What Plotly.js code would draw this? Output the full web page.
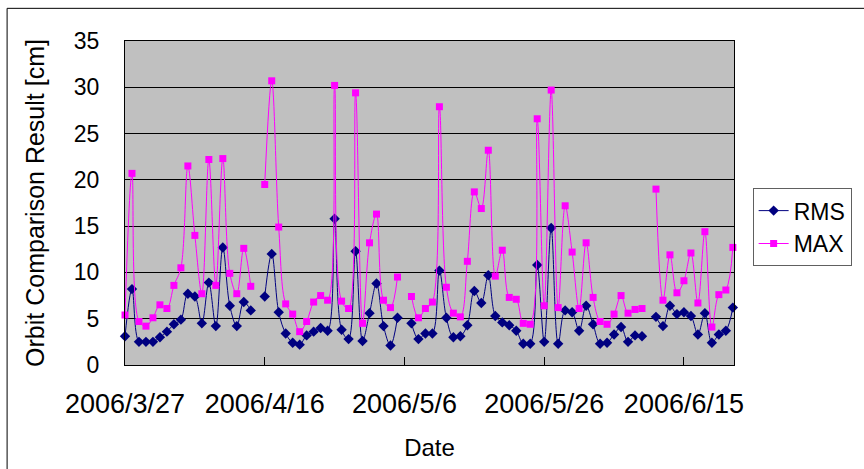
<!DOCTYPE html>
<html>
<head>
<meta charset="utf-8">
<script src="https://cdn.plot.ly/plotly-3.0.1.min.js"></script>
<style>
html,body{margin:0;padding:0;background:#fff;}
#chart{width:864px;height:469px;}
</style>
</head>
<body>
<div id="chart"></div>
<script>
const dates = [
 '2006-03-27','2006-03-28','2006-03-29','2006-03-30','2006-03-31',
 '2006-04-01','2006-04-02','2006-04-03','2006-04-04','2006-04-05','2006-04-06','2006-04-07','2006-04-08','2006-04-09','2006-04-10',
 '2006-04-11','2006-04-12','2006-04-13','2006-04-14','2006-04-15','2006-04-16','2006-04-17','2006-04-18','2006-04-19','2006-04-20',
 '2006-04-21','2006-04-22','2006-04-23','2006-04-24','2006-04-25','2006-04-26','2006-04-27','2006-04-28','2006-04-29','2006-04-30',
 '2006-05-01','2006-05-02','2006-05-03','2006-05-04','2006-05-05','2006-05-06','2006-05-07','2006-05-08','2006-05-09','2006-05-10',
 '2006-05-11','2006-05-12','2006-05-13','2006-05-14','2006-05-15','2006-05-16','2006-05-17','2006-05-18','2006-05-19','2006-05-20',
 '2006-05-21','2006-05-22','2006-05-23','2006-05-24','2006-05-25','2006-05-26','2006-05-27','2006-05-28','2006-05-29','2006-05-30','2006-05-31',
 '2006-06-01','2006-06-02','2006-06-03','2006-06-04','2006-06-05','2006-06-06','2006-06-07','2006-06-08','2006-06-09','2006-06-10',
 '2006-06-11','2006-06-12','2006-06-13','2006-06-14','2006-06-15','2006-06-16','2006-06-17','2006-06-18','2006-06-19','2006-06-20',
 '2006-06-21','2006-06-22'
];

const rms = [
 3.1, 8.2, 2.5, 2.5, 2.5,
 3.0, 3.6, 4.4, 4.9, 7.7, 7.4, 4.5, 8.9, 4.2, 12.7,
 6.4, 4.2, 6.8, 5.9, null, 7.4, 12.0, 5.7, 3.4, 2.4,
 2.2, 3.2, 3.6, 4.0, 3.7, 15.8, 3.8, 2.8, 12.3, 2.6,
 5.6, 8.8, 4.2, 2.1, 5.1, null, 4.5, 2.8, 3.4, 3.4,
 10.2, 5.1, 3.0, 3.1, 4.3, 8.0, 6.7, 9.7, 5.3, 4.6,
 4.3, 3.7, 2.3, 2.3, 10.8, 2.5, 14.8, 2.3, 5.9, 5.7, 3.7,
 6.4, 4.4, 2.3, 2.4, 3.3, 4.1, 2.5, 3.2, 3.1, null,
 5.2, 4.2, 6.4, 5.5, 5.7, 5.3, 3.3, 5.6, 2.4, 3.3,
 3.7, 6.2
];

const max = [
 5.4, 20.7, 4.7, 4.2, 5.1,
 6.5, 6.1, 8.6, 10.5, 21.5, 14.0, 7.7, 22.2, 8.6, 22.3,
 9.9, 7.7, 12.6, 8.5, null, 19.5, 30.7, 14.9, 6.6, 5.5,
 3.6, 4.7, 6.8, 7.5, 7.0, 30.2, 6.9, 6.1, 29.4, 4.5,
 13.2, 16.3, 7.0, 6.2, 9.5, null, 7.4, 5.1, 6.1, 6.8,
 27.9, 8.4, 5.6, 5.2, 11.2, 18.7, 16.9, 23.2, 9.6, 12.4,
 7.3, 7.1, 4.5, 4.4, 26.6, 6.4, 29.7, 6.2, 17.2, 12.2, 6.1,
 13.2, 7.3, 4.7, 4.4, 5.5, 7.5, 5.6, 6.0, 6.1, null,
 19.0, 7.0, 11.9, 7.8, 9.1, 12.1, 6.7, 14.4, 4.1, 7.6,
 8.1, 12.7
];

const tickDates = ['2006-03-27','2006-04-16','2006-05-06','2006-05-26','2006-06-15'];
const tickLabels = ['2006/3/27','2006/4/16','2006/5/6','2006/5/26','2006/6/15'];
const yTicks = [0,5,10,15,20,25,30,35];

const FONT = 'Liberation Sans, Arial, sans-serif';

const traces = [
 {
  x: dates, y: rms, name: 'RMS', type: 'scatter', mode: 'lines+markers',
  line: {color: '#000080', width: 1, shape: 'spline', smoothing: 1},
  marker: {symbol: 'diamond', size: 8, color: '#000080'},
  connectgaps: false, cliponaxis: false
 },
 {
  x: dates, y: max, name: 'MAX', type: 'scatter', mode: 'lines+markers',
  line: {color: '#FF00FF', width: 1, shape: 'spline', smoothing: 1},
  marker: {symbol: 'square', size: 7, color: '#FF00FF'},
  connectgaps: false, cliponaxis: false
 }
];

const layout = {
 width: 864, height: 469,
 margin: {l: 125, r: 128, t: 41, b: 104},
 paper_bgcolor: '#ffffff',
 plot_bgcolor: '#C0C0C0',
 font: {family: FONT, color: '#000'},
 showlegend: true,
 legend: {
  x: 1.0306, y: 0.5458, xanchor: 'left', yanchor: 'top',
  bgcolor: '#ffffff', bordercolor: '#606060', borderwidth: 1,
  font: {family: FONT, size: 23, color: '#000'}
 },
 xaxis: {
  type: 'date',
  range: ['2006-03-27', '2006-06-22 04:00'],
  tickvals: tickDates, ticktext: tickLabels,
  ticks: 'inside', ticklen: 8, tickcolor: '#000', tickwidth: 1,
  ticklabelstandoff: 15,
  tickfont: {family: FONT, size: 27, color: '#000'},
  showgrid: false, zeroline: false,
  showline: true, linecolor: '#000', linewidth: 1, mirror: true,
  title: {text: 'Date', font: {family: FONT, size: 24, color: '#000'}, standoff: 20}
 },
 yaxis: {
  range: [0, 35],
  tickvals: yTicks,
  ticks: '', ticklabelstandoff: 20,
  tickfont: {family: FONT, size: 23, color: '#000'},
  showgrid: true, gridcolor: '#000', gridwidth: 1, zeroline: false,
  showline: true, linecolor: '#000', linewidth: 1, mirror: true,
  title: {text: 'Orbit Comparison Result [cm]', font: {family: FONT, size: 25, color: '#000'}, standoff: 22}
 },
 shapes: [
  {type: 'line', xref: 'paper', yref: 'paper', x0: -0.1936, x1: 1.25, y0: 1.1008, y1: 1.1008, line: {color: '#000', width: 1}},
  {type: 'line', xref: 'paper', yref: 'paper', x0: -0.1936, x1: -0.1936, y0: 1.1008, y1: -0.36, line: {color: '#000', width: 1}}
 ]
};

Plotly.newPlot('chart', traces, layout, {displayModeBar: false, staticPlot: true});
</script>
</body>
</html>
